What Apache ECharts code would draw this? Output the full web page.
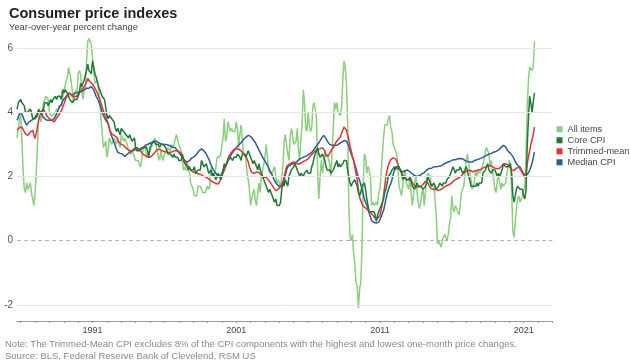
<!DOCTYPE html>
<html>
<head>
<meta charset="utf-8">
<script src="https://cdn.jsdelivr.net/npm/echarts@6/dist/echarts.min.js"></script>
<style>
html,body{margin:0;padding:0;background:#fff;}
#chart{width:630px;height:363px;}
</style>
</head>
<body>
<div id="chart"></div>
<script>
// Monthly, Oct 1985 .. Oct 2021 (year-over-year % change)
const allItems = [
3.2,3.5,3.8,
3.9,3.1,2.2,1.6,1.5,1.8,1.6,1.6,1.8,1.5,1.3,1.1,
1.5,2.1,3.0,3.8,3.9,3.7,3.9,4.3,4.4,4.5,4.5,4.4,
4.0,3.9,3.9,3.9,3.9,4.0,4.1,4.0,4.2,4.2,4.2,4.4,
4.7,4.8,5.0,5.1,5.4,5.2,5.0,4.7,4.3,4.5,4.7,4.6,
5.2,5.3,5.2,4.7,4.4,4.7,4.8,5.6,6.2,6.3,6.3,6.1,
5.7,5.3,4.9,4.9,5.0,4.7,4.4,3.8,3.4,2.9,3.0,3.1,
2.6,2.8,3.2,3.2,3.0,3.1,3.2,3.1,3.0,3.2,3.0,2.9,
3.3,3.2,3.1,3.2,3.2,3.0,2.8,2.8,2.7,2.8,2.7,2.7,
2.5,2.5,2.5,2.4,2.3,2.5,2.8,2.9,3.0,2.6,2.7,2.7,
2.8,2.9,2.9,3.1,3.2,3.0,2.8,2.6,2.5,2.8,2.6,2.5,
2.7,2.7,2.8,2.9,2.9,2.8,3.0,2.9,3.0,3.0,3.3,3.3,
3.0,3.0,2.8,2.5,2.2,2.3,2.2,2.2,2.2,2.1,1.8,1.7,
1.6,1.4,1.4,1.4,1.7,1.7,1.7,1.6,1.5,1.5,1.5,1.6,
1.7,1.6,1.7,2.3,2.1,2.0,2.1,2.3,2.6,2.6,2.6,2.7,
2.7,3.2,3.8,3.1,3.2,3.7,3.7,3.4,3.5,3.4,3.4,3.4,
3.7,3.5,2.9,3.3,3.6,3.2,2.7,2.7,2.6,2.1,1.9,1.6,
1.1,1.1,1.5,1.6,1.2,1.1,1.5,1.8,1.5,2.0,2.2,2.4,
2.6,3.0,3.0,2.2,2.1,2.1,2.1,2.2,2.3,2.0,1.8,1.9,
1.9,1.7,1.7,2.3,3.1,3.3,3.0,2.7,2.5,3.2,3.5,3.3,
3.0,3.0,3.1,3.5,2.8,2.5,3.2,3.6,4.7,4.3,3.5,3.4,
4.0,3.6,3.4,3.5,4.2,4.3,4.1,3.8,2.1,1.3,2.0,2.5,
2.1,2.4,2.8,2.6,2.7,2.7,2.4,2.0,2.8,3.5,4.3,4.1,
4.3,4.0,4.0,3.9,4.2,5.0,5.6,5.4,4.9,3.7,1.1,0.1,
0.0,0.2,-0.4,-0.7,-1.3,-1.4,-2.1,-1.5,-1.3,-0.2,1.8,2.7,
2.6,2.1,2.3,2.2,2.0,1.1,1.2,1.1,1.1,1.2,1.1,1.5,
1.6,2.1,2.7,3.2,3.6,3.6,3.6,3.8,3.9,3.5,3.4,3.0,
2.9,2.9,2.7,2.3,1.7,1.7,1.4,1.7,2.0,2.2,1.8,1.7,
1.6,2.0,1.5,1.1,1.4,1.8,2.0,1.5,1.2,1.0,1.2,1.5,
1.6,1.1,1.5,2.0,2.1,2.1,2.0,1.7,1.7,1.7,1.3,0.8,
-0.1,0.0,-0.1,-0.2,0.0,0.1,0.2,0.2,0.0,0.2,0.5,0.7,
1.4,1.0,0.9,1.1,1.0,1.0,0.8,1.1,1.5,1.6,1.7,2.1,
2.5,2.7,2.4,2.2,1.9,1.6,1.7,1.9,2.2,2.0,2.2,2.1,
2.1,2.2,2.4,2.5,2.8,2.9,2.9,2.7,2.3,2.5,2.2,1.9,
1.6,1.5,1.9,2.0,1.8,1.6,1.8,1.7,1.7,1.8,2.1,2.3,
2.5,2.3,1.5,0.3,0.1,0.6,1.0,1.3,1.4,1.2,1.2,1.4,
1.4,1.7,2.6,4.2,5.0,5.4,5.4,5.3,5.4,6.2
];
const coreCPI = [
4.1,4.3,4.3,
4.4,4.3,4.3,4.2,4.0,4.0,4.0,4.0,4.1,4.0,3.8,3.8,
3.8,3.8,3.9,4.1,4.0,4.0,4.0,4.1,4.3,4.3,4.3,4.2,
4.3,4.4,4.3,4.4,4.4,4.5,4.4,4.5,4.5,4.5,4.4,4.7,
4.6,4.7,4.7,4.6,4.5,4.4,4.4,4.3,4.3,4.4,4.4,4.4,
4.4,4.6,4.9,4.8,4.8,5.0,5.0,5.3,5.5,5.3,5.3,5.2,
5.6,5.6,5.2,5.1,5.1,4.8,4.7,4.6,4.5,4.5,4.4,4.4,
3.9,3.8,3.9,3.9,3.8,3.8,3.7,3.5,3.4,3.5,3.5,3.3,
3.5,3.5,3.4,3.4,3.3,3.3,3.2,3.3,3.2,3.1,3.1,3.2,
2.9,2.8,2.8,2.8,2.8,2.9,2.9,2.9,2.9,2.9,2.8,2.6,
2.9,3.0,3.0,3.1,3.1,3.0,3.0,3.0,2.9,3.0,3.0,3.0,
3.0,2.9,2.8,2.7,2.7,2.7,2.7,2.6,2.7,2.6,2.6,2.6,
2.5,2.5,2.5,2.7,2.5,2.4,2.4,2.3,2.2,2.3,2.2,2.2,
2.2,2.3,2.1,2.1,2.2,2.2,2.2,2.5,2.5,2.3,2.3,2.4,
2.4,2.1,2.1,2.2,2.0,2.1,2.1,1.9,2.0,2.1,2.1,1.9,
2.0,2.2,2.4,2.3,2.4,2.5,2.5,2.6,2.6,2.5,2.6,2.6,
2.6,2.7,2.7,2.6,2.5,2.7,2.7,2.7,2.6,2.6,2.8,2.7,
2.6,2.6,2.4,2.5,2.5,2.3,2.2,2.4,2.2,2.2,2.0,1.9,
1.9,1.7,1.7,1.5,1.6,1.5,1.5,1.3,1.2,1.3,1.1,1.1,
1.1,1.2,1.6,1.8,1.7,1.9,1.8,1.7,2.0,2.0,2.2,2.2,
2.3,2.4,2.3,2.2,2.2,2.0,2.1,2.1,2.0,2.1,2.1,2.2,
2.1,2.1,2.1,2.3,2.4,2.6,2.7,2.8,2.9,2.7,2.6,2.6,
2.7,2.7,2.5,2.3,2.2,2.2,2.2,2.1,2.1,2.2,2.3,2.4,
2.5,2.3,2.4,2.3,2.3,2.4,2.5,2.5,2.5,2.2,2.0,1.8,
1.7,1.8,1.8,1.9,1.8,1.7,1.5,1.4,1.5,1.7,1.7,1.8,
1.6,1.3,1.1,0.9,0.9,0.9,0.9,0.9,0.8,0.6,0.8,0.8,
1.0,1.1,1.2,1.3,1.5,1.6,1.8,2.0,2.0,2.1,2.2,2.2,
2.3,2.2,2.3,2.3,2.3,2.2,2.1,1.9,2.0,2.0,1.9,1.9,
1.9,2.0,1.9,1.7,1.7,1.6,1.7,1.8,1.7,1.7,1.7,1.7,
1.6,1.6,1.7,1.8,2.0,1.9,1.9,1.7,1.7,1.8,1.7,1.6,
1.6,1.7,1.8,1.8,1.7,1.8,1.8,1.8,1.9,1.9,2.0,2.1,
2.2,2.3,2.2,2.1,2.2,2.2,2.2,2.3,2.2,2.1,2.1,2.2,
2.3,2.2,2.0,1.9,1.7,1.7,1.7,1.7,1.7,1.8,1.7,1.8,
1.8,1.8,2.1,2.1,2.2,2.3,2.4,2.2,2.2,2.1,2.2,2.2,
2.2,2.1,2.0,2.1,2.0,2.1,2.2,2.4,2.4,2.3,2.3,2.3,
2.3,2.4,2.1,1.4,1.2,1.2,1.6,1.7,1.7,1.6,1.6,1.6,
1.4,1.3,1.6,3.0,3.8,4.5,4.3,4.0,4.0,4.6
];
const trimmedMean = [
3.44,3.5,3.52,
3.54,3.54,3.48,3.4,3.33,3.3,3.28,3.32,3.38,3.42,3.44,3.3,
3.18,3.35,3.55,3.75,3.9,4.0,4.05,4.1,4.05,3.95,3.88,3.82,
3.8,3.78,3.75,3.72,3.7,3.75,3.82,3.88,3.93,3.96,4.05,4.15,
4.25,4.35,4.45,4.52,4.6,4.58,4.55,4.5,4.48,4.5,4.48,4.5,
4.55,4.6,4.65,4.7,4.75,4.8,4.85,4.9,5.05,5.0,4.95,4.9,
4.88,4.84,4.75,4.68,4.6,4.5,4.4,4.3,4.17,4.05,3.95,3.85,
3.8,3.65,3.5,3.4,3.33,3.3,3.28,3.25,3.23,3.15,3.08,3.02,
3.0,2.98,2.97,2.92,2.88,2.85,2.83,2.82,2.8,2.8,2.8,2.82,
2.84,2.85,2.86,2.85,2.8,2.75,2.7,2.68,2.65,2.62,2.6,2.6,
2.6,2.62,2.66,2.7,2.75,2.8,2.84,2.86,2.85,2.82,2.8,2.8,
2.78,2.77,2.76,2.75,2.75,2.76,2.76,2.78,2.8,2.8,2.8,2.78,
2.78,2.8,2.72,2.65,2.55,2.48,2.42,2.38,2.32,2.25,2.2,2.16,
2.14,2.12,2.1,2.1,2.08,2.08,2.08,2.05,2.02,2.0,1.98,1.98,
1.95,1.92,1.9,1.86,1.84,1.82,1.8,1.78,1.77,1.77,1.8,1.9,
2.02,2.1,2.19,2.3,2.42,2.55,2.65,2.7,2.75,2.8,2.84,2.86,
2.86,2.86,2.86,2.84,2.8,2.76,2.72,2.68,2.64,2.6,2.45,2.3,
2.2,2.12,2.08,2.1,2.12,2.14,2.14,2.12,2.08,2.04,2.0,1.98,
1.98,1.98,1.92,1.88,1.84,1.78,1.72,1.66,1.6,1.56,1.56,1.6,
1.65,1.68,1.72,1.85,2.0,2.15,2.3,2.35,2.38,2.4,2.42,2.45,
2.45,2.44,2.42,2.4,2.38,2.4,2.42,2.45,2.47,2.48,2.5,2.52,
2.55,2.6,2.64,2.68,2.72,2.76,2.8,2.82,2.84,2.85,2.86,2.88,
2.9,2.9,2.8,2.65,2.6,2.65,2.72,2.78,2.85,2.9,2.95,3.05,
3.1,3.15,3.2,3.23,3.35,3.45,3.54,3.6,3.45,3.3,3.15,2.95,
2.8,2.65,2.5,2.3,2.1,1.9,1.6,1.35,1.25,1.15,1.08,1.04,
1.02,0.98,0.94,0.9,0.88,0.85,0.8,0.75,0.7,0.65,0.68,0.72,
0.8,0.95,1.15,1.4,1.7,2.0,2.2,2.35,2.45,2.52,2.56,2.58,
2.58,2.55,2.48,2.38,2.28,2.19,2.12,2.05,2.0,1.96,1.93,1.9,
1.9,1.9,1.88,1.82,1.75,1.7,1.68,1.67,1.67,1.67,1.68,1.7,
1.75,1.8,1.85,1.85,1.8,1.72,1.65,1.6,1.6,1.62,1.6,1.58,
1.57,1.56,1.58,1.6,1.62,1.65,1.68,1.7,1.72,1.74,1.75,1.78,
1.8,1.84,1.88,1.9,1.92,1.94,1.96,1.98,2.02,2.06,2.1,2.14,
2.16,2.18,2.19,2.19,2.18,2.16,2.15,2.16,2.18,2.2,2.2,2.2,
2.22,2.24,2.26,2.28,2.3,2.32,2.33,2.34,2.34,2.32,2.3,2.28,
2.26,2.25,2.24,2.24,2.26,2.3,2.34,2.38,2.4,2.4,2.38,2.35,
2.32,2.28,2.2,2.15,2.19,2.22,2.26,2.29,2.29,2.25,2.18,2.1,
2.04,1.98,2.1,2.4,2.6,2.8,3.0,3.15,3.3,3.54
];
const medianCPI = [
3.75,3.85,3.95,
4.0,3.95,3.85,3.75,3.7,3.6,3.65,3.7,3.7,3.75,3.75,3.8,
3.85,3.9,3.95,4.05,4.1,4.0,3.9,3.85,3.8,3.8,3.75,3.75,
3.75,3.7,3.75,3.75,3.8,3.85,3.95,4.05,4.15,4.2,4.25,4.35,
4.4,4.45,4.5,4.55,4.6,4.6,4.55,4.5,4.55,4.6,4.55,4.6,
4.6,4.65,4.6,4.65,4.7,4.7,4.7,4.75,4.8,4.75,4.8,4.8,
4.75,4.7,4.6,4.5,4.45,4.35,4.25,4.15,4.0,3.9,3.85,3.75,
3.8,3.65,3.5,3.35,3.25,3.2,3.05,2.95,2.85,2.76,2.7,2.72,
2.68,2.7,2.65,2.62,2.65,2.7,2.72,2.75,2.78,2.8,2.85,2.88,
2.9,2.9,2.88,2.85,2.85,2.86,2.9,2.92,2.95,2.98,3.0,3.02,
3.05,3.05,3.08,3.1,3.1,3.1,3.08,3.05,3.05,3.02,3.0,3.0,
3.0,3.0,3.0,2.98,2.95,2.95,2.92,2.9,2.9,2.9,2.88,2.8,
2.75,2.7,2.65,2.6,2.55,2.5,2.48,2.45,2.45,2.5,2.55,2.58,
2.6,2.62,2.65,2.7,2.75,2.8,2.85,2.86,2.85,2.8,2.75,2.7,
2.62,2.55,2.45,2.35,2.28,2.2,2.15,2.1,2.05,2.0,1.98,2.02,
2.1,2.2,2.28,2.35,2.4,2.48,2.55,2.62,2.7,2.75,2.8,2.85,
2.9,2.92,2.98,3.0,3.05,3.1,3.15,3.2,3.22,3.25,3.28,3.28,
3.25,3.2,3.15,3.1,3.05,2.97,2.9,2.82,2.75,2.68,2.6,2.55,
2.48,2.42,2.35,2.28,2.19,2.12,2.05,1.95,1.88,1.8,1.77,1.72,
1.7,1.68,1.67,1.75,1.9,2.05,2.2,2.3,2.32,2.35,2.38,2.4,
2.4,2.42,2.45,2.48,2.52,2.55,2.56,2.58,2.6,2.62,2.65,2.65,
2.68,2.7,2.72,2.75,2.8,2.85,2.9,2.95,3.0,3.05,3.1,3.18,
3.22,3.28,3.25,3.18,3.1,3.05,3.0,2.98,2.97,2.98,2.97,3.0,
2.97,3.0,3.02,3.05,3.07,3.1,3.12,3.1,3.1,3.05,2.95,2.8,
2.7,2.6,2.5,2.38,2.25,2.1,1.98,1.88,1.75,1.6,1.45,1.3,
1.2,1.15,1.0,0.85,0.75,0.63,0.6,0.57,0.56,0.55,0.56,0.58,
0.65,0.75,0.85,0.94,1.1,1.3,1.46,1.58,1.7,1.77,1.9,2.05,
2.2,2.3,2.28,2.25,2.22,2.2,2.18,2.14,2.15,2.18,2.2,2.2,
2.18,2.15,2.1,2.08,2.05,2.03,2.02,2.0,2.02,2.03,2.05,2.08,
2.1,2.12,2.15,2.2,2.24,2.25,2.24,2.26,2.28,2.3,2.28,2.3,
2.3,2.32,2.3,2.33,2.35,2.38,2.4,2.42,2.45,2.45,2.45,2.48,
2.5,2.52,2.5,2.52,2.55,2.55,2.55,2.56,2.55,2.55,2.52,2.5,
2.48,2.47,2.45,2.45,2.44,2.45,2.48,2.5,2.5,2.52,2.53,2.55,
2.56,2.58,2.6,2.62,2.64,2.66,2.68,2.7,2.7,2.72,2.74,2.76,
2.77,2.78,2.8,2.82,2.86,2.9,2.94,2.97,2.97,2.92,2.85,2.78,
2.75,2.72,2.7,2.62,2.55,2.46,2.4,2.35,2.3,2.29,2.22,2.15,
2.08,2.05,2.03,2.05,2.12,2.19,2.3,2.42,2.58,2.76
];
const seriesNames = ['All items', 'Core CPI', 'Trimmed-mean', 'Median CPI'];
const xLabelYears = ['1991', '2001', '2011', '2021'];
const yLabelValues = [-2, 0, 2, 4, 6];
const gridValues = [-2, 2, 4, 6];
const zeroValue = 0;

// month categories Oct 1985 .. Jan 2023 (axis runs a bit past the data)
const months = [];
for (let k = 0; k < 448; k++) {
  const mm = (9 + k) % 12;
  const yy = 1985 + Math.floor((9 + k) / 12);
  months.push(yy + '-' + String(mm + 1).padStart(2, '0'));
}

const FONT = '"Liberation Sans", Arial, Helvetica, sans-serif';
const colors = { 'All items': '#8bcf7c', 'Core CPI': '#1f7a35', 'Trimmed-mean': '#e5323a', 'Median CPI': '#2e5c97' };

const chart = echarts.init(document.getElementById('chart'), null, { renderer: 'canvas' });

const markData = gridValues.map(v => ({ yAxis: v, lineStyle: { color: '#e4e4e4', type: 'solid', width: 1 } }));
markData.push({ yAxis: zeroValue, lineStyle: { color: '#b3b3b3', type: [4, 3], width: 1 } });

function lineSeries(name, data) {
  return {
    name: name, type: 'line', data: data, showSymbol: false, symbol: 'none',
    color: colors[name],
    lineStyle: { width: 1.5, color: colors[name] },
    animation: false
  };
}

chart.setOption({
  animation: false,
  textStyle: { fontFamily: FONT },
  title: {
    text: 'Consumer price indexes',
    subtext: 'Year-over-year percent change',
    left: 4, top: 1, itemGap: 2,
    textStyle: { fontSize: 14.5, fontWeight: 'bold', color: '#222', fontFamily: FONT },
    subtextStyle: { fontSize: 9.4, color: '#444', fontFamily: FONT }
  },
  grid: { left: 17.1, top: 32, width: 535.3, height: 289, containLabel: false },
  legend: {
    data: seriesNames,
    orient: 'vertical', left: 551.5, top: 118.8,
    icon: 'rect', itemWidth: 6, itemHeight: 6, itemGap: 0,
    textStyle: { fontSize: 9.2, color: '#444', lineHeight: 11, fontFamily: FONT },
    selectedMode: false
  },
  xAxis: {
    type: 'category', data: months, boundaryGap: false,
    axisLine: { onZero: false, lineStyle: { color: '#999', width: 1 } },
    axisTick: { show: true, length: 2, lineStyle: { color: '#999' },
      interval: (idx, val) => val.endsWith('-01') },
    axisLabel: {
      interval: (idx, val) => val.endsWith('-01') && xLabelYears.indexOf(val.slice(0, 4)) >= 0,
      formatter: val => val.slice(0, 4),
      fontSize: 9, color: '#444', margin: 5, fontFamily: FONT
    },
    splitLine: { show: false }
  },
  yAxis: {
    type: 'value', min: -2.5, max: 6.5, interval: 0.5,
    axisLine: { show: false }, axisTick: { show: false }, splitLine: { show: false },
    axisLabel: {
      formatter: v => (yLabelValues.indexOf(Math.round(v * 100) / 100) >= 0 ? String(v) : ''),
      fontSize: 10, color: '#555', margin: 4, fontFamily: FONT
    }
  },
  graphic: [
    { type: 'text', left: 5, top: 339.5, silent: true,
      style: { text: 'Note: The Trimmed-Mean CPI excludes 8% of the CPI components with the highest and lowest one-month price changes.', fontSize: 9.5, fill: '#8a8a8a', fontFamily: FONT } },
    { type: 'text', left: 5, top: 351.5, silent: true,
      style: { text: 'Source: BLS, Federal Reserve Bank of Clevelend, RSM US', fontSize: 9.5, fill: '#8a8a8a', fontFamily: FONT } }
  ],
  series: [
    { name: 'grid', type: 'line', data: [], silent: true, animation: false,
      markLine: { silent: true, symbol: ['none', 'none'], label: { show: false }, animation: false, data: markData } },
    lineSeries('All items', allItems),
    lineSeries('Median CPI', medianCPI),
    lineSeries('Trimmed-mean', trimmedMean),
    lineSeries('Core CPI', coreCPI)
  ]
});
</script>
</body>
</html>
